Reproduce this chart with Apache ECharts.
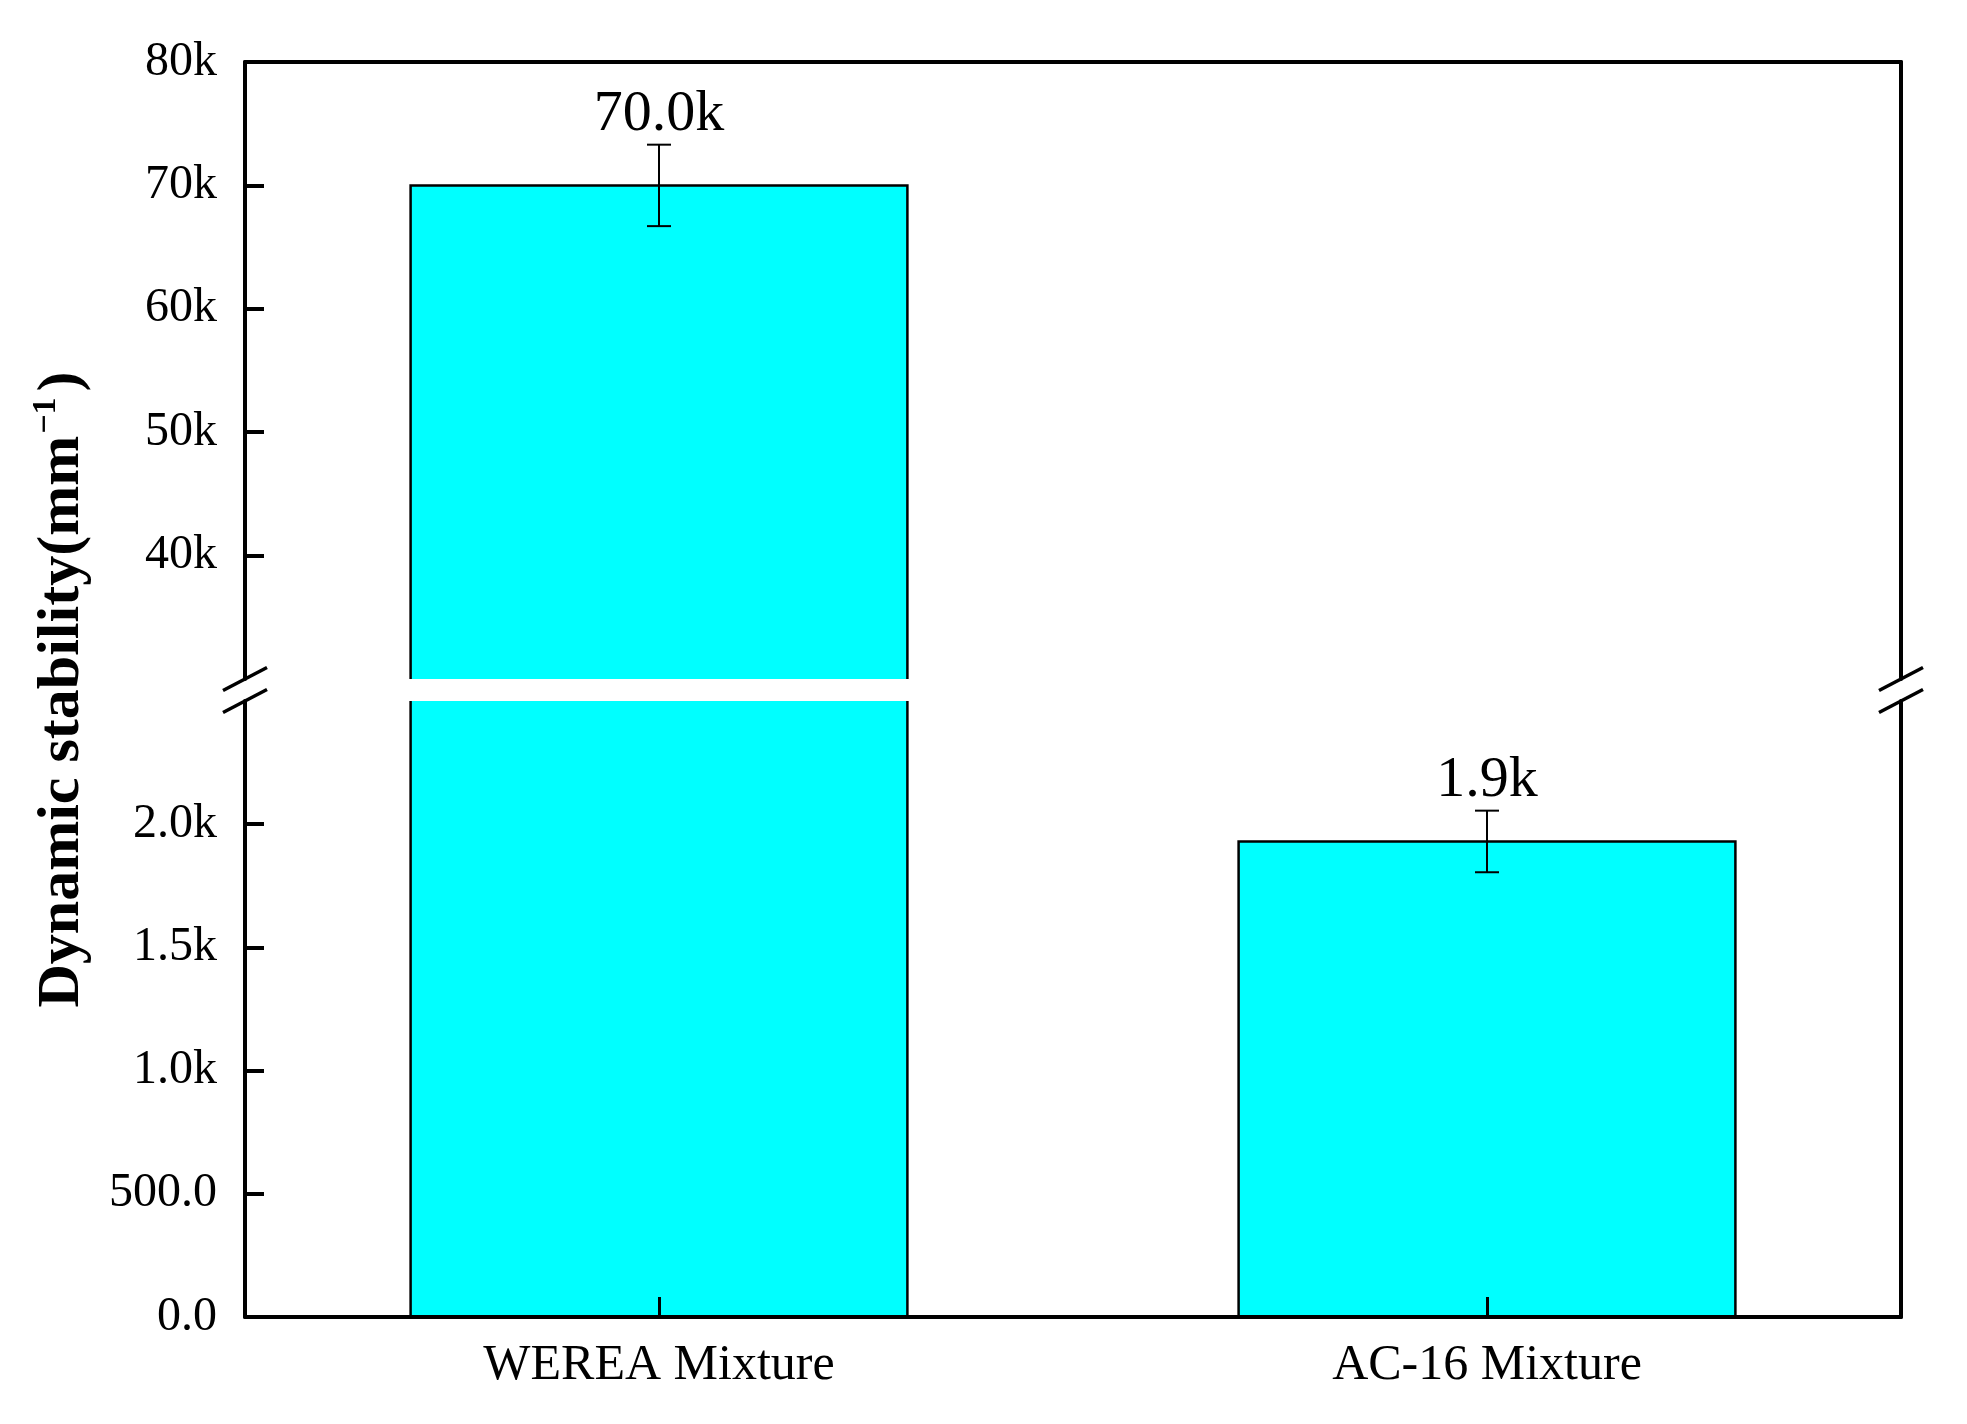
<!DOCTYPE html>
<html>
<head>
<meta charset="utf-8">
<script src="https://cdn.jsdelivr.net/npm/echarts@6/dist/echarts.min.js"></script>
<style>
html,body{margin:0;padding:0;background:#fff;}
#chart{width:1967px;height:1424px;}
</style>
</head>
<body>
<div id="chart"></div>
<script>
// ---- data ----
const categories = ['WEREA Mixture', 'AC-16 Mixture'];
const dynamicStability = [70000, 1930];
const stdError = [3300, 125];
const valueLabels = ['70.0k', '1.9k'];
const upperTickValues = [40000, 50000, 60000, 70000, 80000];
const upperTickLabels = ['40k', '50k', '60k', '70k', '80k'];
const lowerTickValues = [0, 500, 1000, 1500, 2000];
const lowerTickLabels = ['0.0', '500.0', '1.0k', '1.5k', '2.0k'];
const upperRange = [30000, 80000];
const lowerRange = [0, 2500];
const yTitle = 'Dynamic stability(mm';
const ySup = '\u22121';

// ---- layout / style ----
const FONT = '"Liberation Serif", "Times New Roman", serif';
const BAR = '#00FFFF';
const gridLeft = 245, gridRight = 66;
const upTop = 62, upBottom = 679, lowTop = 701, lowBottom = 1317;
const axisW = 4;

const chart = echarts.init(document.getElementById('chart'), null, {renderer: 'canvas'});

function makeRender(axisMin, axisMax) {
  return function (params, api) {
    const ci = api.value(0), v = api.value(1), e = api.value(2);
    if (!(v > axisMin)) return null;
    const bw = api.size([1, 0])[0] * 0.6;
    const base = api.coord([ci, axisMin]);
    const cx = base[0], yb = base[1];
    const capped = v > axisMax;
    const yt = api.coord([ci, capped ? axisMax : v])[1];
    const l = cx - bw / 2, r = cx + bw / 2;
    const children = [
      {type: 'rect', shape: {x: l, y: yt, width: bw, height: yb - yt}, style: {fill: BAR}}
    ];
    const edge = {stroke: '#000', lineWidth: 2.5, fill: null};
    if (capped) {
      children.push({type: 'line', shape: {x1: l, y1: yb, x2: l, y2: yt}, style: edge});
      children.push({type: 'line', shape: {x1: r, y1: yb, x2: r, y2: yt}, style: edge});
    } else {
      children.push({type: 'polyline', shape: {points: [[l, yb], [l, yt], [r, yt], [r, yb]]}, style: edge});
      const yHi = api.coord([ci, v + e])[1];
      const yLo = api.coord([ci, v - e])[1];
      const cap = 12;
      const es = {stroke: '#000', lineWidth: 2};
      children.push({type: 'line', shape: {x1: cx, y1: yHi, x2: cx, y2: yLo}, style: es});
      children.push({type: 'line', shape: {x1: cx - cap, y1: yHi, x2: cx + cap, y2: yHi}, style: es});
      children.push({type: 'line', shape: {x1: cx - cap, y1: yLo, x2: cx + cap, y2: yLo}, style: es});
      children.push({
        type: 'text',
        style: {
          x: cx, y: yHi - 30,
          text: valueLabels[params.dataIndex],
          fill: '#000',
          font: '58px ' + FONT,
          align: 'center', verticalAlign: 'middle',
          textAlign: 'center', textVerticalAlign: 'middle'
        }
      });
    }
    return {type: 'group', children: children};
  };
}

const seriesData = categories.map((c, i) => [i, dynamicStability[i], stdError[i]]);

function fmt(values, labels) {
  return function (v) {
    const k = values.indexOf(v);
    return k >= 0 ? labels[k] : '';
  };
}

const lineStyle = {color: '#000', width: axisW};
const labelStyle = {color: '#000', fontSize: 48, fontFamily: FONT};

function slash(x, y) {
  return {
    type: 'line',
    shape: {x1: x - 22, y1: y + 11.5, x2: x + 22, y2: y - 11.5},
    style: {stroke: '#000', lineWidth: 3.5},
    z: 100
  };
}

const rightX = 1967 - gridRight;

const option = {
  backgroundColor: '#fff',
  animation: false,
  grid: [
    {left: gridLeft, right: gridRight, top: upTop, height: upBottom - upTop},
    {left: gridLeft, right: gridRight, top: lowTop, height: lowBottom - lowTop}
  ],
  xAxis: [
    {
      type: 'category', gridIndex: 0, data: categories, position: 'top',
      axisLine: {show: true, onZero: false, lineStyle: lineStyle},
      axisTick: {show: false}, axisLabel: {show: false}, splitLine: {show: false}, z: 10
    },
    {
      type: 'category', gridIndex: 1, data: categories, position: 'bottom',
      axisLine: {show: true, onZero: false, lineStyle: lineStyle},
      axisTick: {show: true, inside: true, length: 20, alignWithLabel: true, lineStyle: {color: '#000', width: 3}},
      axisLabel: {margin: 24, color: '#000', fontSize: 50, fontFamily: FONT},
      splitLine: {show: false}, z: 10
    }
  ],
  yAxis: [
    {
      type: 'value', gridIndex: 0, min: upperRange[0], max: upperRange[1], interval: 10000,
      axisLine: {show: true, lineStyle: lineStyle},
      axisTick: {show: true, inside: true, length: 19, customValues: upperTickValues, lineStyle: {color: '#000', width: axisW}},
      axisLabel: Object.assign({margin: 28, customValues: upperTickValues, formatter: fmt(upperTickValues, upperTickLabels)}, labelStyle),
      splitLine: {show: false}, z: 10
    },
    {
      type: 'value', gridIndex: 1, min: lowerRange[0], max: lowerRange[1], interval: 500,
      axisLine: {show: true, lineStyle: lineStyle},
      axisTick: {show: true, inside: true, length: 19, customValues: lowerTickValues, lineStyle: {color: '#000', width: axisW}},
      axisLabel: Object.assign({margin: 28, customValues: lowerTickValues, formatter: fmt(lowerTickValues, lowerTickLabels)}, labelStyle),
      splitLine: {show: false}, z: 10
    },
    {
      type: 'value', gridIndex: 0, position: 'right', min: upperRange[0], max: upperRange[1],
      axisLine: {show: true, lineStyle: lineStyle},
      axisTick: {show: false}, axisLabel: {show: false}, splitLine: {show: false}, z: 10
    },
    {
      type: 'value', gridIndex: 1, position: 'right', min: lowerRange[0], max: lowerRange[1],
      axisLine: {show: true, lineStyle: lineStyle},
      axisTick: {show: false}, axisLabel: {show: false}, splitLine: {show: false}, z: 10
    }
  ],
  series: [
    {
      type: 'custom', xAxisIndex: 0, yAxisIndex: 0, encode: {x: 0, y: 1},
      renderItem: makeRender(upperRange[0], upperRange[1]), data: seriesData, z: 2
    },
    {
      type: 'custom', xAxisIndex: 1, yAxisIndex: 1, encode: {x: 0, y: 1},
      renderItem: makeRender(lowerRange[0], lowerRange[1]), data: seriesData, z: 2
    }
  ],
  graphic: [
    slash(gridLeft, upBottom), slash(gridLeft, lowTop),
    slash(rightX, upBottom), slash(rightX, lowTop),
    {
      type: 'text',
      x: 62, y: (upTop + lowBottom) / 2,
      rotation: Math.PI / 2,
      style: {
        text: '{a|' + yTitle + '}{s|' + ySup + '}{a|)}',
        align: 'center', verticalAlign: 'middle',
        rich: {
          a: {fontSize: 60, fontWeight: 'bold', fontFamily: FONT, fill: '#000', lineHeight: 66},
          s: {fontSize: 34, fontWeight: 'bold', fontFamily: FONT, fill: '#000', verticalAlign: 'top', padding: [0, 6, 0, 2]}
        }
      },
      z: 100
    }
  ]
};

chart.setOption(option);
</script>
</body>
</html>
